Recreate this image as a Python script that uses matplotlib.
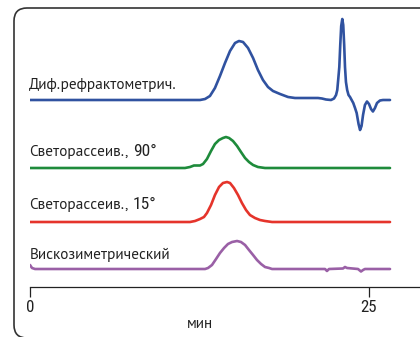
import matplotlib
matplotlib.use("Agg")
import matplotlib.pyplot as plt
from matplotlib.patches import FancyBboxPatch
from matplotlib.transforms import IdentityTransform

# ---------------- data (time in minutes, signal in arbitrary units) -------------
ri_t = [0, 12.54, 12.91, 13.27, 13.64, 14.01, 14.38, 14.75, 15.12, 15.41, 15.71, 16.08,
        16.45, 16.81, 17.18, 17.55, 17.92, 18.44, 19.03, 19.54, 21.24, 21.53, 21.83, 22.2,
        22.42, 22.57, 22.66, 22.74, 22.81, 22.88, 22.95, 23.03, 23.1, 23.17, 23.23, 23.3,
        23.39, 23.49, 23.6, 23.72, 23.84, 23.97, 24.09, 24.23, 24.34, 24.45, 24.56, 24.7,
        24.85, 25.0, 25.15, 25.29, 25.44, 25.59, 25.81, 26.03, 26.55]
ri_v = [0, 0, 1, 4, 12, 24, 37, 49, 57, 59, 58, 52,
        42, 30, 20, 13, 9, 6, 3, 2, 2, 1.5, 0.5, 0,
        1.5, 5, 10, 22, 33, 55, 74, 81, 75, 55, 33, 18,
        10, 5, 3, 0, -3, -8, -13, -24, -30, -26, -15, -5,
        -1.5, -4, -9, -11.5, -8, -3, -0.5, 0, 0]

ls90_t = [0, 11.43, 11.8, 12.09, 12.54, 12.76, 13.05, 13.35, 13.64, 13.94, 14.23, 14.45,
          14.68, 14.97, 15.27, 15.56, 15.86, 16.15, 16.45, 16.81, 17.33, 26.55]
ls90_v = [0, 0, 1, 2.5, 2.5, 4, 9, 17, 24, 28, 30, 31,
          30, 27, 22, 16, 10, 6, 3, 1, 0, 0]

ls15_t = [0, 11.8, 12.17, 12.54, 12.83, 13.05, 13.35, 13.64, 13.94, 14.23, 14.53, 14.75,
          15.04, 15.34, 15.63, 15.93, 16.22, 16.59, 16.96, 17.33, 17.85, 26.55]
ls15_v = [0, 0, 1, 3, 5, 9, 17, 27, 35, 39, 40, 39,
          34, 27, 19, 12, 7, 4, 2, 1, 0, 0]

visc_t = [0, 0.15, 0.37, 12.91, 13.13, 13.42, 13.72, 14.01, 14.31, 14.6, 14.9, 15.27,
          15.56, 15.86, 16.15, 16.45, 16.74, 17.04, 17.33, 17.63, 17.85, 21.76, 21.9,
          22.05, 23.08, 23.23, 23.38, 24.19, 24.41, 24.56, 24.7, 26.55]
visc_v = [4, 1, 0, 0, 1, 4, 10, 16, 21, 25, 27, 28,
          27, 24, 19, 14, 9, 5, 2, 1, 0, 0, -2,
          0, 0.5, 2, 1, 0, -2.5, -1, 0, 0]

names = ["Диф.рефрактометрич.", "Светорассеив.,", "Светорассеив.,", "Вискозиметрический"]
name_numbers = ["", "90°", "15°", ""]
offsets = [187, 119, 65, 18]
label_baselines = [198.5, 131.3, 78, 28]
colors = ["#3052A0", "#1E8B3B", "#E5342B", "#9A60A6"]
xticks = [0, 25]
xlabel = "мин"

TEXT_FONT = ["PT Sans", "DejaVu Sans"]
NUM_FONT = ["Roboto Condensed", "DejaVu Sans"]

# ---------------- figure ----------------
W, H = 420, 337
fig = plt.figure(figsize=(W / 100, H / 100), dpi=100)

frame = FancyBboxPatch((14, -1), 440, 330, boxstyle="round,pad=0,rounding_size=13",
                       transform=IdentityTransform(), facecolor="none",
                       edgecolor="#333333", linewidth=1.2)
fig.patches.append(frame)

ax = fig.add_axes([30 / W, 50 / H, 390 / W, 279 / H])
ax.set_xlim(0, 390 / 13.56)
ax.set_ylim(0, 279)
ax.patch.set_alpha(0)

series = [(ri_t, ri_v), (ls90_t, ls90_v), (ls15_t, ls15_v), (visc_t, visc_v)]
for (t, v), off, c in zip(series, offsets, colors):
    ax.plot(t, [off + val for val in v], color=c, lw=1.9, solid_joinstyle="round",
            solid_capstyle="round")

first_parts = []
for name, yb in zip(names, label_baselines):
    first_parts.append(ax.text(-0.05, yb, name, fontsize=11, family=TEXT_FONT,
                               color="#222222", va="baseline", ha="left", clip_on=False))

fig.canvas.draw()
renderer = fig.canvas.get_renderer()
for t1, num, yb in zip(first_parts, name_numbers, label_baselines):
    if not num:
        continue
    wpx = t1.get_window_extent(renderer).width + 4
    ax.annotate(num, xy=(-0.05, yb), xycoords="data", xytext=(wpx * 72 / 100, 0),
                textcoords="offset points", fontsize=12.5, family=NUM_FONT,
                color="#222222", va="baseline", ha="left", annotation_clip=False)

for s in ["left", "top", "right"]:
    ax.spines[s].set_visible(False)
ax.spines["bottom"].set_color("#222222")
ax.spines["bottom"].set_linewidth(0.9)
ax.set_yticks([])
ax.set_xticks(xticks)
ax.set_xticklabels([str(x) for x in xticks], fontfamily=NUM_FONT, fontsize=12.2)
ax.tick_params(axis="x", direction="out", length=7.2, width=0.9, colors="#222222", pad=2)

fig.text(200 / W, (H - 328.3) / H, xlabel, fontsize=11, family=TEXT_FONT,
         color="#222222", ha="center", va="baseline")

fig.savefig("out.png", dpi=100)
